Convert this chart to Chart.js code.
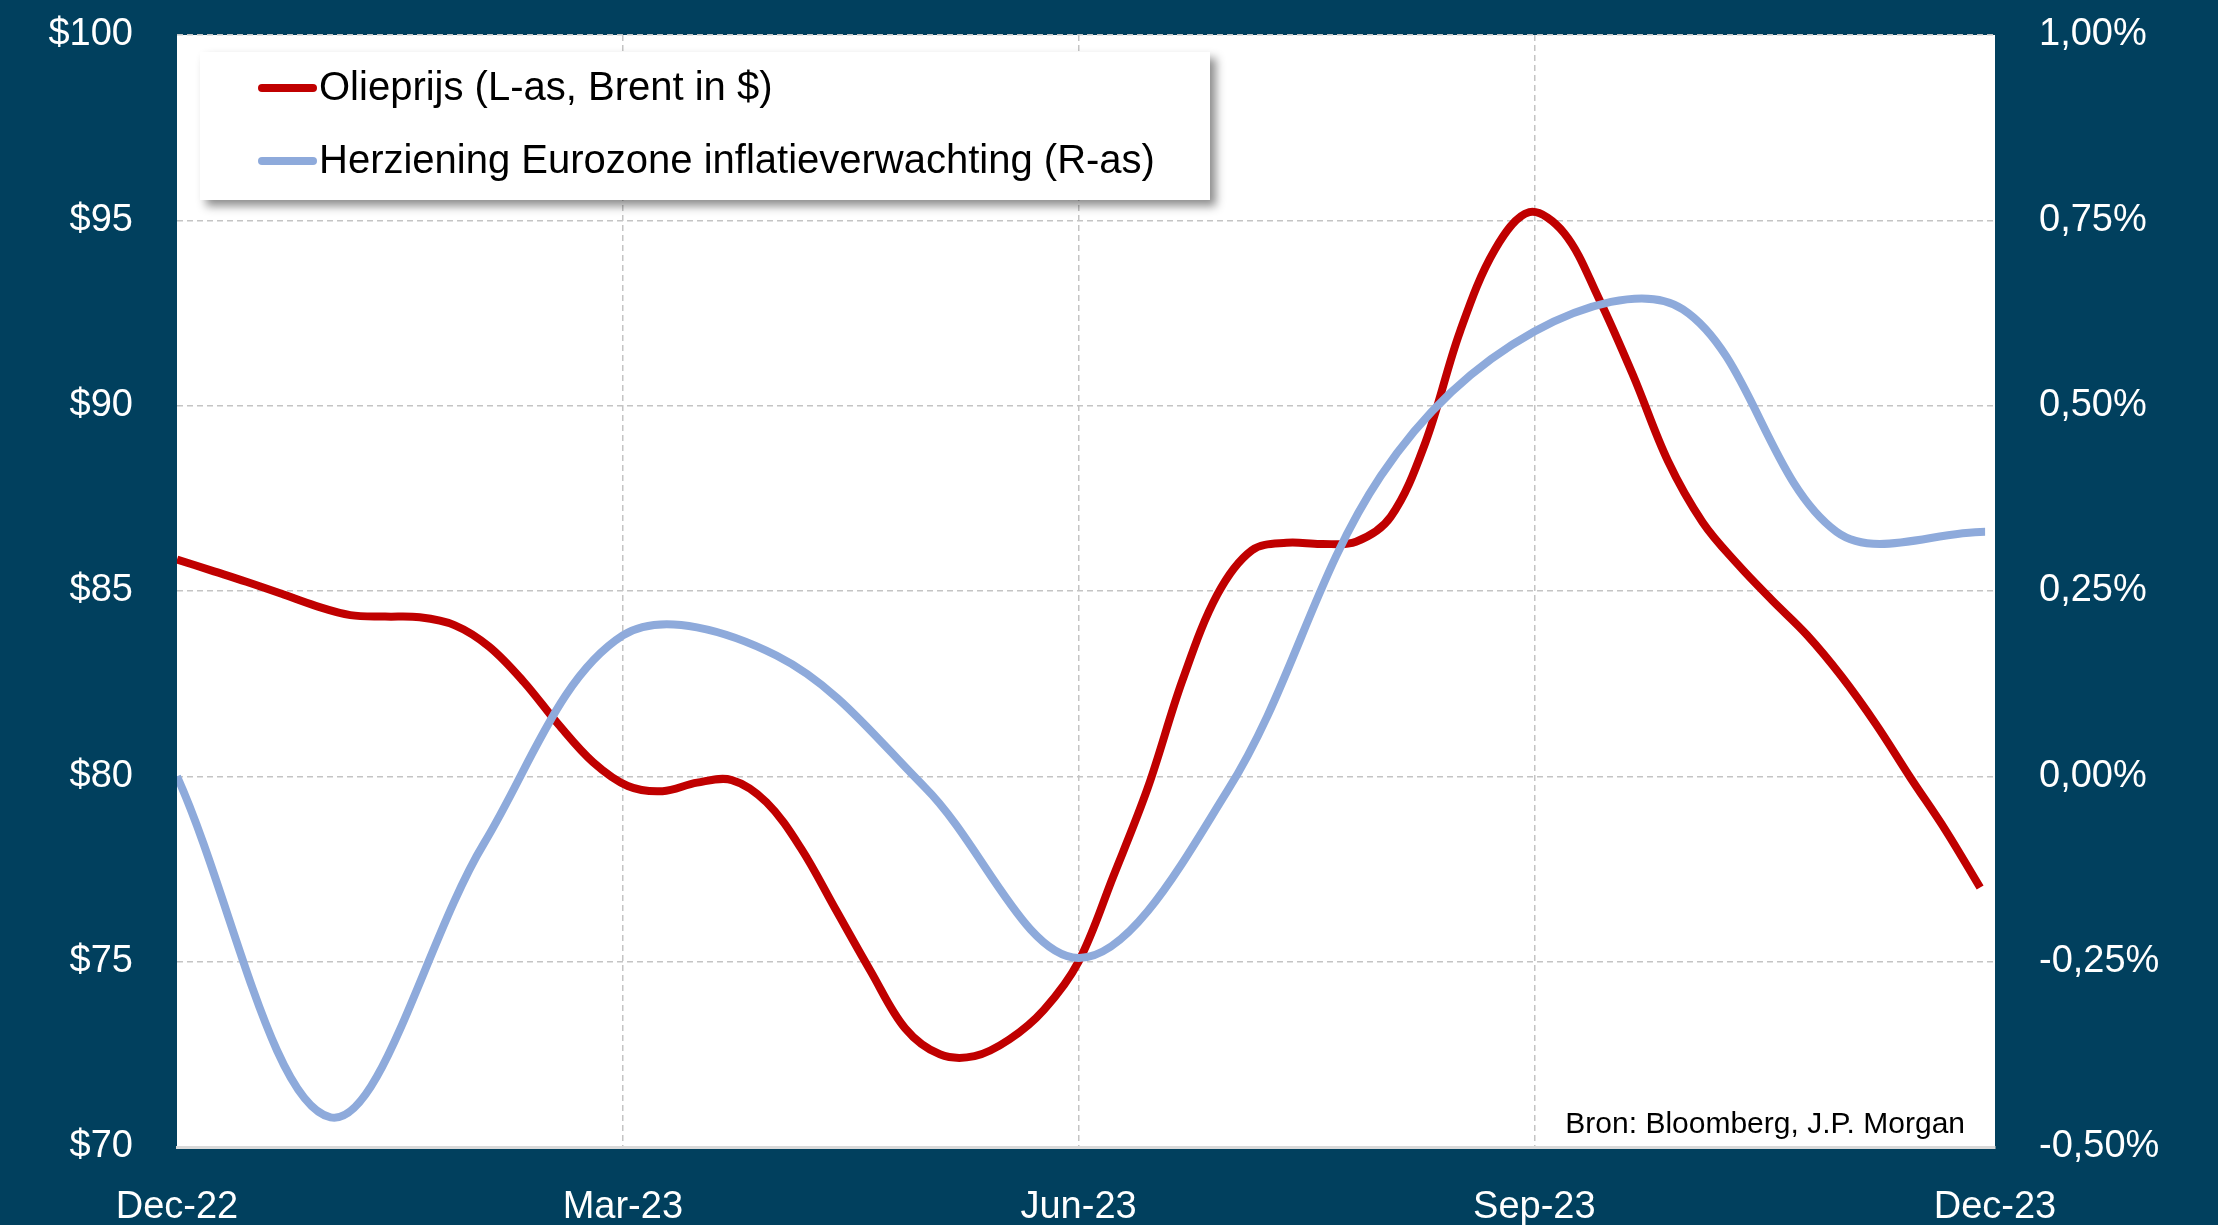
<!DOCTYPE html>
<html>
<head>
<meta charset="utf-8">
<script src="https://cdn.jsdelivr.net/npm/chart.js@4.4.1/dist/chart.umd.min.js"></script>
<style>
  html, body { margin: 0; padding: 0; background: #01405e; overflow: hidden; }
  #wrap { width: 2218px; height: 1225px; }
</style>
</head>
<body>
<div id="wrap"><canvas id="c" width="2218" height="1225"></canvas></div>
<script>
// Axis labels
const tickLabels = ['Dec-22', 'Mar-23', 'Jun-23', 'Sep-23', 'Dec-23'];
const tickDates = ['2022-12-01', '2023-03-01', '2023-06-01', '2023-09-01', '2023-12-01'];

// Brent oil price, weekly (USD per barrel)
const oilDates = [
  '2022-12-01', '2022-12-08', '2022-12-15', '2022-12-22', '2022-12-29',
  '2023-01-05', '2023-01-12', '2023-01-19', '2023-01-26',
  '2023-02-02', '2023-02-09', '2023-02-16', '2023-02-23',
  '2023-03-02', '2023-03-09', '2023-03-16', '2023-03-23', '2023-03-30',
  '2023-04-06', '2023-04-13', '2023-04-20', '2023-04-27',
  '2023-05-04', '2023-05-11', '2023-05-18', '2023-05-25',
  '2023-06-01', '2023-06-08', '2023-06-15', '2023-06-22', '2023-06-29',
  '2023-07-06', '2023-07-13', '2023-07-20', '2023-07-27',
  '2023-08-03', '2023-08-10', '2023-08-17', '2023-08-24', '2023-08-31',
  '2023-09-07', '2023-09-14', '2023-09-21', '2023-09-28',
  '2023-10-05', '2023-10-12', '2023-10-19', '2023-10-26',
  '2023-11-02', '2023-11-09', '2023-11-16', '2023-11-23', '2023-11-30'
];
const oilPrice = [
  85.85, 85.55, 85.25, 84.93, 84.60,
  84.35, 84.31, 84.29, 84.08,
  83.50, 82.55, 81.40, 80.38,
  79.74, 79.60, 79.83, 79.90, 79.30,
  78.05, 76.40, 74.75, 73.20,
  72.50, 72.45, 72.90, 73.70,
  75.00, 77.30, 79.70, 82.60, 84.90,
  86.10, 86.30, 86.27, 86.33,
  87.00, 89.00, 92.00, 94.20, 95.22,
  94.66, 92.90, 90.80, 88.50,
  86.85, 85.73, 84.75, 83.82,
  82.70, 81.40, 79.95, 78.55, 77.00
];

// Revision of eurozone inflation expectations, monthly (percentage points)
const revisionDates = [
  '2022-12-01', '2023-01-01', '2023-02-01', '2023-03-01', '2023-04-01', '2023-05-01',
  '2023-06-01', '2023-07-01', '2023-08-01', '2023-09-01', '2023-10-01', '2023-11-01', '2023-12-01'
];
const revisionPct = [0.00, -0.46, -0.09, 0.19, 0.163, -0.015, -0.245, -0.02, 0.405, 0.60, 0.63, 0.33, 0.33];

const seriesNames = ['Olieprijs (L-as, Brent in $)', 'Herziening Eurozone inflatieverwachting (R-as)'];
const sourceNote = 'Bron: Bloomberg, J.P. Morgan';

const FONT = "'Liberation Sans', Arial, sans-serif";
const NAVY = '#01405e';
const GRID = '#c4c4c4';

const toPoints = (dates, vals) => dates.map((d, i) => ({ x: Date.parse(d), y: vals[i] }));

const xMin = Date.parse(tickDates[0]);
const xMax = Date.parse('2023-12-03');

// Fixed axis width; edge labels may overhang the plot area
const fitVertical = (w) => (s) => { s.width = w; s.paddingTop = 0; s.paddingBottom = 0; };

// Navy canvas with a white plotting area
const backdrop = {
  id: 'backdrop',
  beforeDraw(chart) {
    const { ctx, chartArea: a } = chart;
    ctx.save();
    ctx.fillStyle = NAVY;
    ctx.fillRect(0, 0, chart.width, chart.height);
    ctx.fillStyle = '#ffffff';
    ctx.fillRect(a.left, a.top, a.right - a.left, a.bottom - a.top);
    ctx.restore();
  }
};

// Boxed legend with drop shadow, plus the source line
const legendBox = {
  id: 'legendBox',
  afterDraw(chart) {
    const { ctx, chartArea: a } = chart;
    ctx.save();
    const bx = 200, by = 52, bw = 1010, bh = 148;
    ctx.shadowColor = 'rgba(0,0,0,0.45)';
    ctx.shadowBlur = 9;
    ctx.shadowOffsetX = 6;
    ctx.shadowOffsetY = 6;
    ctx.fillStyle = '#ffffff';
    ctx.fillRect(bx, by, bw, bh);
    ctx.shadowColor = 'transparent';
    ctx.shadowBlur = 0;
    ctx.shadowOffsetX = 0;
    ctx.shadowOffsetY = 0;

    const rows = [88, 161];
    chart.data.datasets.forEach((ds, i) => {
      const y = rows[i];
      ctx.strokeStyle = ds.borderColor;
      ctx.lineWidth = 8;
      ctx.lineCap = 'round';
      ctx.beginPath();
      ctx.moveTo(262, y);
      ctx.lineTo(313, y);
      ctx.stroke();
      ctx.fillStyle = '#000000';
      ctx.font = '40px ' + FONT;
      ctx.textAlign = 'left';
      ctx.textBaseline = 'middle';
      ctx.fillText(ds.label, 319, y + 1);
    });

    ctx.fillStyle = '#000000';
    ctx.font = '30px ' + FONT;
    ctx.textAlign = 'right';
    ctx.textBaseline = 'alphabetic';
    ctx.fillText(sourceNote, a.right - 30, a.bottom - 14);
    ctx.restore();
  }
};

new Chart(document.getElementById('c'), {
  type: 'line',
  data: {
    datasets: [
      {
        label: seriesNames[0],
        data: toPoints(oilDates, oilPrice),
        borderColor: '#c00000',
        borderWidth: 8,
        pointRadius: 0,
        tension: 0.35,
        yAxisID: 'y',
        order: 1
      },
      {
        label: seriesNames[1],
        data: toPoints(revisionDates, revisionPct),
        borderColor: '#8eaadb',
        borderWidth: 8,
        pointRadius: 0,
        tension: 0.35,
        yAxisID: 'y1',
        order: 0
      }
    ]
  },
  options: {
    responsive: false,
    animation: false,
    devicePixelRatio: 1,
    layout: { padding: { top: 35, left: 0, right: 0, bottom: 0 } },
    plugins: { legend: { display: false }, tooltip: { enabled: false } },
    scales: {
      x: {
        type: 'linear',
        min: xMin,
        max: xMax,
        afterBuildTicks(s) {
          s.ticks = tickDates.map((d, i) => ({ value: i === tickDates.length - 1 ? s.max : Date.parse(d) }));
        },
        afterFit(s) { s.height = 78; s.paddingLeft = 0; s.paddingRight = 0; },
        ticks: {
          autoSkip: false,
          maxRotation: 0,
          color: '#ffffff',
          font: { family: FONT, size: 38 },
          padding: 38,
          callback: (v, i) => tickLabels[i]
        },
        grid: {
          drawTicks: false,
          lineWidth: 1.5,
          color: (c) => (c.index === 0 || c.index === tickDates.length - 1) ? 'rgba(0,0,0,0)' : GRID
        },
        border: { display: true, color: '#d9d9d9', width: 3, dash: [6, 4] }
      },
      y: {
        position: 'left',
        min: 70,
        max: 100,
        afterFit: fitVertical(177),
        ticks: {
          stepSize: 5,
          color: '#ffffff',
          font: { family: FONT, size: 38 },
          padding: 44,
          callback: (v) => '$' + v
        },
        grid: { drawTicks: false, lineWidth: 1.5, color: GRID },
        border: { display: false, dash: [6, 4] }
      },
      y1: {
        position: 'right',
        min: -0.5,
        max: 1.0,
        afterFit: fitVertical(223),
        ticks: {
          stepSize: 0.25,
          color: '#ffffff',
          font: { family: FONT, size: 38 },
          padding: 44,
          callback: (v) => v.toFixed(2).replace('.', ',') + '%'
        },
        grid: { drawOnChartArea: false, drawTicks: false },
        border: { display: false }
      }
    }
  },
  plugins: [backdrop, legendBox]
});
</script>
</body>
</html>
